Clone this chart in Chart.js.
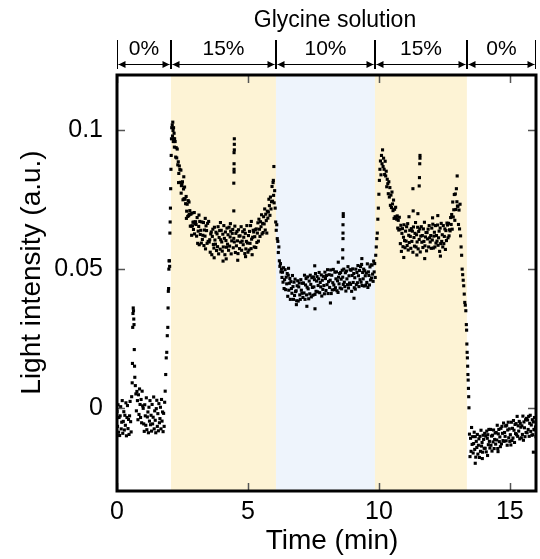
<!DOCTYPE html>
<html><head><meta charset="utf-8">
<script src="https://cdn.jsdelivr.net/npm/chart.js@4.4.0/dist/chart.umd.min.js"></script>
<style>html,body{margin:0;padding:0;background:#fff}</style>
</head><body>
<canvas id="c" width="540" height="559" style="width:540px;height:559px;display:block"></canvas>
<script>
// ---------------- DATA ----------------
const timeMin = [
// 0% baseline
0.00,0.02,0.04,0.06,0.08,0.10,0.12,0.14,0.16,0.18,0.20,0.22,0.24,0.26,0.28,0.30,0.32,0.34,0.36,0.38,0.40,0.42,0.44,0.46,0.48,0.50,0.52,0.54,
// small spike
0.56,0.58,0.59,0.60,0.61,0.62,0.63,0.64,0.65,0.66,0.67,0.68,0.70,0.72,
// 0% baseline (2)
0.74,0.76,0.78,0.80,0.82,0.84,0.86,0.88,0.90,0.92,
0.94,0.96,0.98,1.00,1.02,1.04,1.06,1.08,1.10,1.12,
1.14,1.16,1.18,1.20,1.22,1.24,1.26,1.28,1.30,1.32,
1.34,1.36,1.38,1.40,1.42,1.44,1.46,1.48,1.50,1.52,
1.54,1.56,1.58,1.60,1.62,1.64,1.66,1.68,1.70,1.72,
1.74,1.76,1.78,1.80,
// rise to 15%
1.82,1.84,1.86,1.88,1.90,1.92,1.94,1.95,1.96,1.97,1.98,1.99,2.00,2.01,2.02,2.03,2.04,2.05,2.06,2.07,2.08,2.09,
// peak
2.11,2.12,2.13,2.14,2.15,2.16,2.17,2.18,2.19,2.20,
// decay
2.22,2.24,2.26,2.28,2.30,2.32,2.34,2.36,2.38,2.40,
2.42,2.44,2.46,2.48,2.50,2.52,2.54,2.56,2.58,2.60,
2.62,2.64,2.66,2.68,2.70,2.72,2.74,2.76,2.78,2.80,
2.82,2.84,2.86,2.88,2.90,2.92,2.94,2.96,2.98,3.00,
2.35,2.45,2.55,2.65,2.75,2.85,2.95,
// 15% plateau
3.02,3.04,3.06,3.08,3.10,3.12,3.14,3.16,3.18,3.20,
3.22,3.24,3.26,3.28,3.30,3.32,3.34,3.36,3.38,3.40,
3.42,3.44,3.46,3.48,3.50,3.52,3.54,3.56,3.58,3.60,
3.62,3.64,3.66,3.68,3.70,3.72,3.74,3.76,3.78,3.80,
3.82,3.84,3.86,3.88,3.90,3.92,3.94,3.96,3.98,4.00,
4.02,4.04,4.06,4.08,4.10,4.12,4.14,4.16,4.18,4.20,
4.22,4.24,4.26,4.28,4.30,4.32,4.34,4.36,4.38,4.40,
4.42,4.44,4.46,4.48,4.50,4.52,4.54,4.56,4.58,4.60,
4.62,4.64,4.66,4.68,4.70,4.72,4.74,4.76,4.78,4.80,
4.82,4.84,4.86,4.88,4.90,4.92,4.94,4.96,4.98,5.00,
5.02,5.04,5.06,5.08,5.10,5.12,5.14,5.16,5.18,5.20,
5.22,5.24,5.26,5.28,5.30,
3.13,3.37,3.71,3.95,4.17,4.33,4.61,4.91,5.13,4.05,
// spike at 4.47
4.46,4.46,4.47,4.47,4.47,4.47,4.48,4.48,4.48,
// late rise
5.32,5.34,5.36,5.38,5.40,
5.42,5.44,5.46,5.48,5.50,5.52,5.54,5.56,5.58,5.60,
5.62,5.64,5.66,5.68,5.70,5.72,5.74,5.76,
5.78,5.80,5.82,5.84,5.86,5.88,5.90,
5.92,5.94,5.96,5.98,6.00,6.02,
5.97,5.99,
// drop to 10%
6.04,6.06,6.08,6.10,6.12,6.14,6.16,6.18,6.20,6.22,6.24,6.26,6.28,6.30,
// 10% plateau
6.32,6.34,6.36,6.38,6.40,6.42,6.44,6.46,6.48,6.50,
6.52,6.54,6.56,6.58,6.60,6.62,6.64,6.66,6.68,6.70,
6.72,6.74,6.76,6.78,6.80,6.82,6.84,6.86,6.88,6.90,
6.92,6.94,6.96,6.98,7.00,7.02,7.04,7.06,7.08,7.10,
7.12,7.14,7.16,7.18,7.20,7.22,7.24,7.26,7.28,7.30,
7.32,7.34,7.36,7.38,7.40,7.42,7.44,7.46,7.48,7.50,
7.52,7.54,7.56,7.58,7.60,7.62,7.64,7.66,7.68,7.70,
7.72,7.74,7.76,7.78,7.80,7.82,7.84,7.86,7.88,7.90,
7.92,7.94,7.96,7.98,8.00,8.02,8.04,8.06,8.08,8.10,
8.12,8.14,8.16,8.18,8.20,8.22,8.24,8.26,8.28,8.30,
8.32,8.34,8.36,8.38,8.40,8.42,8.44,8.46,8.48,8.50,
8.52,8.54,8.56,8.58,8.60,8.62,8.64,8.66,8.68,8.70,
8.72,8.74,8.76,8.78,8.80,8.82,8.84,8.86,8.88,8.90,
8.92,8.94,8.96,8.98,9.00,9.02,9.04,9.06,9.08,9.10,
9.12,9.14,9.16,9.18,9.20,9.22,9.24,9.26,9.28,9.30,
9.32,9.34,9.36,9.38,9.40,9.42,9.44,9.46,9.48,9.50,
9.52,9.54,9.56,9.58,9.60,9.62,9.64,9.66,9.68,9.70,
9.72,9.74,9.76,9.78,9.80,
6.85,7.25,7.55,8.15,8.45,9.05,9.35,6.55,7.56,
// spike at 8.63
8.62,8.62,8.63,8.63,8.63,8.64,8.64,
// rise to 15%
9.82,9.84,9.86,9.88,9.90,9.92,9.94,9.96,9.98,10.00,
10.02,10.04,10.06,10.08,10.10,10.12,10.14,10.16,10.18,10.20,
// decay
10.22,10.24,10.26,10.28,10.30,10.32,10.34,10.36,10.38,10.40,
10.42,10.44,10.46,10.48,10.50,10.52,10.54,10.56,10.58,10.60,
10.62,10.64,10.66,10.68,10.70,10.72,10.74,10.76,10.78,10.80,
// 15% plateau (2)
10.82,10.84,10.86,10.88,10.90,10.92,10.94,10.96,10.98,11.00,
11.02,11.04,11.06,11.08,11.10,11.12,11.14,11.16,11.18,11.20,
11.22,11.24,11.26,11.28,11.30,11.32,11.34,11.36,11.38,11.40,
11.42,11.44,11.46,11.48,11.50,11.52,11.54,11.56,11.58,11.60,
11.62,11.64,11.66,11.68,11.70,11.72,11.74,11.76,11.78,11.80,
11.82,11.84,11.86,11.88,11.90,11.92,11.94,11.96,11.98,12.00,
12.02,12.04,12.06,12.08,12.10,12.12,12.14,12.16,12.18,12.20,
12.22,12.24,12.26,12.28,12.30,12.32,12.34,12.36,12.38,12.40,
12.42,12.44,12.46,12.48,12.50,12.52,12.54,12.56,12.58,12.60,
10.95,11.15,11.75,12.05,12.35,11.45,12.25,
// spike at 11.56
11.30,11.31,11.49,11.54,11.55,11.56,11.57,11.57,
// late rise
12.62,12.64,12.66,12.68,12.70,12.72,12.74,12.76,12.78,12.80,
12.82,12.84,12.86,12.88,12.90,12.92,12.94,12.96,12.98,13.00,
13.02,13.04,13.06,13.08,13.10,12.99,
// drop to 0%
13.12,13.14,13.16,13.18,13.20,13.22,13.24,13.26,13.28,13.30,
13.32,13.34,13.35,13.36,13.37,13.38,13.39,13.40,13.41,13.42,13.43,13.44,
// 0% final
13.46,13.48,13.50,13.52,13.54,13.56,13.58,13.60,13.62,13.64,
13.66,13.68,13.70,13.72,13.74,13.76,13.78,13.80,13.82,13.84,
13.86,13.88,13.90,13.92,13.94,13.96,13.98,14.00,14.02,14.04,
14.06,14.08,14.10,14.12,14.14,14.16,14.18,14.20,14.22,14.24,
14.26,14.28,14.30,14.32,14.34,14.36,14.38,14.40,14.42,14.44,
14.46,14.48,14.50,14.52,14.54,14.56,14.58,14.60,14.62,14.64,
14.66,14.68,14.70,14.72,14.74,14.76,14.78,14.80,14.82,14.84,
14.86,14.88,14.90,14.92,14.94,14.96,14.98,15.00,15.02,15.04,
15.06,15.08,15.10,15.12,15.14,15.16,15.18,15.20,15.22,15.24,
15.26,15.28,15.30,15.32,15.34,15.36,15.38,15.40,15.42,15.44,
15.46,15.48,15.50,15.52,15.54,15.56,15.58,15.60,15.62,15.64,
15.66,15.68,15.70,15.72,15.74,15.76,15.78,15.80,15.82,15.84,
15.86,15.88,15.90,15.92,15.94,15.96,15.98,16.00,
13.68,15.90,14.15,14.55,13.95
];

const intensity = [
// 0% baseline
-0.0013,-0.0067,0.0011,-0.0088,-0.0035,-0.0100,-0.0029,0.0004,-0.0076,-0.0052,
0.0026,-0.0092,-0.0049,-0.0014,-0.0080,-0.0027,-0.0063,0.0018,-0.0101,-0.0035,
0.0008,-0.0075,-0.0042,-0.0096,-0.0029,0.0023,-0.0050,-0.0087,
// small spike
0.004,0.009,0.016,0.029,0.034,0.036,0.035,0.032,0.030,0.021,0.015,0.011,0.008,0.005,
// 0% baseline (2)
-0.0011,0.0059,0.0026,-0.0043,0.0047,-0.0024,0.0068,0.0012,-0.0035,0.0030,
-0.0054,0.0060,0.0007,-0.0002,-0.0058,-0.0085,0.0011,-0.0029,-0.0063,0.0036,
-0.0079,-0.0033,-0.0015,-0.0090,0.0002,-0.0048,0.0026,-0.0061,-0.0027,-0.0084,
0.0012,-0.0058,-0.0034,0.0039,-0.0076,-0.0011,-0.0045,-0.0090,-0.0003,0.0027,
-0.0067,-0.0021,-0.0083,0.0015,-0.0054,-0.0039,0.0002,-0.0076,0.0030,-0.0048,
-0.0015,-0.0086,-0.0020,-0.0067,
// rise to 15%
0.002,0.006,0.012,0.018,0.020,0.026,0.029,0.036,0.042,0.043,0.050,0.053,0.053,0.051,0.063,0.067,0.072,0.079,0.086,0.091,0.097,0.101,
// peak
0.102,0.098,0.103,0.100,0.096,0.101,0.097,0.099,0.094,0.097,
// decay
0.0960,0.0904,0.0938,0.0901,0.0933,0.0876,0.0887,0.0845,0.0872,0.0859,
0.0813,0.0857,0.0801,0.0808,0.0815,0.0750,0.0789,0.0754,0.0796,0.0752,
0.0736,0.0762,0.0709,0.0734,0.0690,0.0747,0.0693,0.0698,0.0711,0.0655,
0.0698,0.0655,0.0702,0.0656,0.0669,0.0643,0.0670,0.0627,0.0664,0.0671,
0.0812,0.0774,0.0833,0.0683,0.0742,0.0622,0.0704,
// 15% plateau
0.0661,0.0619,0.0686,0.0593,0.0637,0.0654,0.0588,0.0672,0.0625,0.0640,
0.0594,0.0670,0.0607,0.0622,0.0668,0.0585,0.0641,0.0619,0.0573,0.0656,
0.0639,0.0593,0.0665,0.0600,0.0672,0.0598,0.0606,0.0561,0.0627,0.0634,
0.0552,0.0618,0.0644,0.0589,0.0576,0.0651,0.0605,0.0590,0.0633,0.0567,
0.0627,0.0581,0.0653,0.0555,0.0614,0.0639,0.0572,0.0606,0.0640,0.0598,
0.0565,0.0626,0.0580,0.0657,0.0611,0.0552,0.0634,0.0603,0.0579,0.0648,
0.0590,0.0624,0.0568,0.0651,0.0583,0.0616,0.0637,0.0555,0.0602,0.0629,
0.0643,0.0577,0.0611,0.0598,0.0655,0.0560,0.0629,0.0584,0.0636,0.0602,
0.0556,0.0642,0.0619,0.0574,0.0620,0.0597,0.0653,0.0568,0.0601,0.0635,
0.0588,0.0615,0.0642,0.0556,0.0629,0.0573,0.0600,0.0657,0.0594,0.0561,
0.0621,0.0569,0.0636,0.0593,0.0657,0.0574,0.0608,0.0552,0.0615,0.0640,
0.0634,0.0580,0.0617,0.0642,0.0578,
0.0695,0.0683,0.0541,0.0668,0.0537,0.0664,0.0532,0.0545,0.0672,0.0529,
// spike at 4.47
0.071,0.081,0.085,0.086,0.088,0.092,0.093,0.095,0.097,
// late rise
0.0645,0.0596,0.0630,0.0667,0.0601,
0.0680,0.0644,0.0618,0.0671,0.0653,0.0696,0.0627,0.0665,0.0632,0.0689,
0.0663,0.0717,0.0641,0.0698,0.0675,0.0630,0.0709,0.0684,
0.0706,0.0752,0.0729,0.0694,0.0760,0.0717,0.0743,
0.0798,0.0745,0.0812,0.0766,0.0739,0.0783,
0.082,0.087,
// drop to 10%
0.072,0.067,0.064,0.066,0.061,0.060,0.056,0.058,0.053,0.051,0.052,0.049,0.050,0.047,
// 10% plateau
0.0489,0.0453,0.0505,0.0430,0.0462,0.0498,0.0426,0.0471,0.0447,0.0484,
0.0402,0.0478,0.0424,0.0449,0.0466,0.0391,0.0455,0.0430,0.0413,0.0477,
0.0437,0.0391,0.0453,0.0405,0.0464,0.0419,0.0422,0.0386,0.0440,0.0458,
0.0385,0.0436,0.0450,0.0407,0.0391,0.0462,0.0424,0.0413,0.0449,0.0398,
0.0450,0.0414,0.0478,0.0391,0.0443,0.0466,0.0407,0.0435,0.0472,0.0429,
0.0393,0.0457,0.0411,0.0478,0.0445,0.0400,0.0469,0.0434,0.0406,0.0472,
0.0436,0.0462,0.0409,0.0484,0.0420,0.0457,0.0473,0.0418,0.0441,0.0465,
0.0488,0.0415,0.0452,0.0436,0.0479,0.0403,0.0460,0.0427,0.0474,0.0441,
0.0411,0.0489,0.0466,0.0423,0.0477,0.0444,0.0498,0.0412,0.0455,0.0480,
0.0434,0.0460,0.0497,0.0412,0.0478,0.0425,0.0451,0.0499,0.0443,0.0426,
0.0489,0.0433,0.0465,0.0490,0.0422,0.0458,0.0416,0.0471,0.0447,0.0484,
0.0432,0.0488,0.0464,0.0429,0.0496,0.0471,0.0445,0.0500,0.0453,0.0437,
0.0487,0.0421,0.0493,0.0465,0.0444,0.0509,0.0432,0.0476,0.0450,0.0498,
0.0445,0.0496,0.0420,0.0477,0.0501,0.0452,0.0484,0.0433,0.0469,0.0428,
0.0500,0.0444,0.0488,0.0451,0.0513,0.0476,0.0437,0.0495,0.0462,0.0509,
0.0453,0.0517,0.0441,0.0488,0.0465,0.0500,0.0439,0.0494,0.0476,0.0442,
0.0486,0.0452,0.0519,0.0434,0.0490,0.0477,0.0443,0.0508,0.0461,0.0515,
0.0468,0.0515,0.0482,0.0456,0.0529,
0.0372,0.0366,0.0512,0.0378,0.0525,0.0395,0.0538,0.0503,0.0357,
// spike at 8.63
0.054,0.057,0.061,0.063,0.066,0.069,0.070,
// rise to 15%
0.049,0.052,0.047,0.055,0.058,0.061,0.063,0.068,0.072,0.077,
0.082,0.086,0.089,0.084,0.091,0.088,0.093,0.087,0.090,0.086,
// decay
0.0841,0.0889,0.0836,0.0853,0.0797,0.0824,0.0808,0.0772,0.0815,0.0760,
0.0794,0.0730,0.0767,0.0722,0.0778,0.0735,0.0711,0.0749,0.0683,0.0716,
0.0689,0.0723,0.0685,0.0680,0.0692,0.0648,0.0676,0.0641,0.0687,0.0644,
// 15% plateau (2)
0.0592,0.0658,0.0564,0.0629,0.0646,0.0581,0.0615,0.0660,0.0603,0.0577,
0.0637,0.0601,0.0653,0.0585,0.0664,0.0569,0.0622,0.0596,0.0640,0.0618,
0.0575,0.0646,0.0600,0.0637,0.0561,0.0652,0.0614,0.0583,0.0629,0.0668,
0.0580,0.0624,0.0598,0.0651,0.0573,0.0636,0.0607,0.0645,0.0562,0.0619,
0.0653,0.0597,0.0621,0.0578,0.0645,0.0600,0.0669,0.0584,0.0616,0.0632,
0.0566,0.0632,0.0609,0.0644,0.0580,0.0657,0.0613,0.0598,0.0621,0.0575,
0.0648,0.0605,0.0662,0.0576,0.0619,0.0633,0.0580,0.0657,0.0594,0.0621,
0.0601,0.0659,0.0586,0.0613,0.0637,0.0564,0.0648,0.0592,0.0665,0.0600,
0.0624,0.0580,0.0657,0.0592,0.0618,0.0645,0.0571,0.0639,0.0603,0.0666,
0.0542,0.0689,0.0538,0.0685,0.0547,0.0551,0.0693,
// spike at 11.56
0.079,0.071,0.070,0.080,0.083,0.088,0.090,0.091,
// late rise
0.0659,0.0613,0.0665,0.0620,0.0642,0.0638,0.0686,0.0661,0.0697,0.0644,
0.0742,0.0688,0.0714,0.0769,0.0676,0.0771,0.0715,0.0790,0.0743,0.0727,
0.0727,0.0661,0.0713,0.0645,0.0734,0.0836,
// drop to 0%
0.062,0.058,0.055,0.050,0.048,0.046,0.044,0.041,0.038,0.037,
0.035,0.030,0.028,0.023,0.020,0.018,0.015,0.012,0.010,0.007,0.004,0.000,
// 0% final
-0.0095,-0.0176,-0.0110,-0.0157,-0.0071,-0.0132,-0.0104,-0.0163,-0.0129,-0.0088,
-0.0150,-0.0104,-0.0178,-0.0121,-0.0143,-0.0096,-0.0167,-0.0135,-0.0112,-0.0179,
-0.0103,-0.0157,-0.0081,-0.0138,-0.0125,-0.0160,-0.0099,-0.0114,-0.0146,-0.0092,
-0.0146,-0.0102,-0.0159,-0.0084,-0.0110,-0.0097,-0.0133,-0.0078,-0.0121,-0.0145,
-0.0078,-0.0135,-0.0102,-0.0156,-0.0099,-0.0123,-0.0080,-0.0147,-0.0114,-0.0091,
-0.0131,-0.0089,-0.0116,-0.0063,-0.0147,-0.0094,-0.0078,-0.0122,-0.0105,-0.0140,
-0.0074,-0.0130,-0.0067,-0.0092,-0.0118,-0.0055,-0.0121,-0.0089,-0.0103,-0.0066,
-0.0119,-0.0063,-0.0135,-0.0080,-0.0052,-0.0108,-0.0076,-0.0121,-0.0097,-0.0134,
-0.0052,-0.0118,-0.0074,-0.0109,-0.0046,-0.0081,-0.0125,-0.0060,-0.0093,-0.0057,
-0.0097,-0.0031,-0.0103,-0.0065,-0.0084,-0.0049,-0.0112,-0.0056,-0.0070,-0.0108,
-0.0065,-0.0096,-0.0030,-0.0117,-0.0051,-0.0072,-0.0104,-0.0043,-0.0089,-0.0038,
-0.0090,-0.0044,-0.0078,-0.0031,-0.0103,-0.0056,-0.0027,-0.0085,-0.0062,-0.0099,
-0.0043,-0.0097,-0.0051,-0.0078,-0.0035,-0.0080,-0.0069,-0.0104,
-0.0200,-0.0160,-0.0172,-0.0158,-0.0183
];

const xTickValues = [0, 5, 10, 15];
const xTickLabels = ['0', '5', '10', '15'];
const yTickValues = [0, 0.05, 0.1];
const yTickLabels = ['0', '0.05', '0.1'];
const xAxisTitle = 'Time (min)';
const yAxisTitle = 'Light intensity (a.u.)';

const phaseStart  = [0, 2.06, 6.07, 9.85, 13.36];
const phaseEnd    = [2.06, 6.07, 9.85, 13.36, 16];
const phaseLabels = ['0%', '15%', '10%', '15%', '0%'];
const phaseFill   = [null, '#fdf3d5', '#eef4fc', '#fdf3d5', null];
const headerTitle = 'Glycine solution';

// ---------------- CHART ----------------
const FONT = '"Liberation Sans", Arial, Helvetica, sans-serif';
Chart.defaults.font.family = FONT;
Chart.defaults.color = '#000';

const bandsPlugin = {
  id: 'bands',
  beforeDatasetsDraw(chart) {
    const {ctx, chartArea: a, scales: {x}} = chart;
    ctx.save();
    for (let i = 0; i < phaseStart.length; i++) {
      if (!phaseFill[i]) continue;
      const x0 = x.getPixelForValue(phaseStart[i]);
      const x1 = x.getPixelForValue(phaseEnd[i]);
      ctx.fillStyle = phaseFill[i];
      ctx.fillRect(x0, a.top, x1 - x0, a.bottom - a.top);
    }
    ctx.restore();
  }
};

const framePlugin = {
  id: 'frame',
  afterDatasetsDraw(chart) {
    const {ctx, chartArea: a, scales: {x, y}} = chart;
    ctx.save();
    ctx.strokeStyle = '#555';
    ctx.lineWidth = 1.5;
    const L = 8;
    ctx.beginPath();
    xTickValues.forEach(v => {
      const px = Math.round(x.getPixelForValue(v)) + 0.5;
      ctx.moveTo(px, a.bottom); ctx.lineTo(px, a.bottom - L);
      ctx.moveTo(px, a.top); ctx.lineTo(px, a.top + L);
    });
    yTickValues.forEach(v => {
      const py = Math.round(y.getPixelForValue(v)) + 0.5;
      ctx.moveTo(a.left, py); ctx.lineTo(a.left + L, py);
      ctx.moveTo(a.right, py); ctx.lineTo(a.right - L, py);
    });
    ctx.stroke();
    ctx.strokeStyle = '#000';
    ctx.lineWidth = 3;
    ctx.strokeRect(a.left, a.top, a.right - a.left, a.bottom - a.top);
    ctx.restore();
  }
};

const textPlugin = {
  id: 'texts',
  afterDraw(chart) {
    const {ctx, scales: {x}} = chart;
    ctx.save();
    ctx.fillStyle = '#000';
    ctx.textAlign = 'center';
    ctx.textBaseline = 'alphabetic';
    // axis titles
    ctx.font = '28px ' + FONT;
    ctx.fillText(xAxisTitle, 332, 549);
    ctx.save();
    ctx.translate(40, 272.5);
    ctx.rotate(-Math.PI / 2);
    ctx.fillText(yAxisTitle, 0, 0);
    ctx.restore();
    // header
    ctx.font = '23px ' + FONT;
    ctx.fillText(headerTitle, 335, 27);
    ctx.font = '21px ' + FONT;
    const yArrow = 64.5, yTop = 40, yBot = 69;
    ctx.strokeStyle = '#000';
    ctx.lineWidth = 1;
    const bars = new Set();
    for (let i = 0; i < phaseStart.length; i++) {
      const x0 = Math.round(x.getPixelForValue(phaseStart[i])) + 0.5;
      const x1 = Math.round(x.getPixelForValue(phaseEnd[i])) - 0.5;
      bars.add(x0); bars.add(x1);
      ctx.beginPath();
      ctx.moveTo(x0 + 1, yArrow); ctx.lineTo(x1 - 1, yArrow);
      ctx.stroke();
      ctx.beginPath();
      ctx.moveTo(x0 + 1, yArrow); ctx.lineTo(x0 + 8, yArrow - 3.5); ctx.lineTo(x0 + 8, yArrow + 3.5); ctx.closePath();
      ctx.moveTo(x1 - 1, yArrow); ctx.lineTo(x1 - 8, yArrow - 3.5); ctx.lineTo(x1 - 8, yArrow + 3.5); ctx.closePath();
      ctx.fill();
      ctx.fillText(phaseLabels[i], (x0 + x1) / 2, 55);
    }
    ctx.beginPath();
    bars.forEach(bx => { ctx.moveTo(bx, yTop); ctx.lineTo(bx, yBot); });
    ctx.stroke();
    ctx.restore();
  }
};

new Chart(document.getElementById('c'), {
  type: 'scatter',
  data: {
    datasets: [{
      data: timeMin.map((t, i) => ({x: t, y: intensity[i]})),
      pointStyle: 'rect',
      pointRadius: 2.2,
      pointBorderWidth: 0,
      backgroundColor: '#000',
      borderColor: '#000'
    }]
  },
  options: {
    responsive: false,
    animation: false,
    devicePixelRatio: 1,
    layout: {padding: {top: 75, right: 3, left: 0, bottom: 0}},
    plugins: {legend: {display: false}, tooltip: {enabled: false}},
    scales: {
      x: {
        type: 'linear', min: 0, max: 16,
        afterBuildTicks: s => { s.ticks = xTickValues.map(v => ({value: v})); },
        afterFit: s => { s.height = 68; },
        grid: {display: false, drawTicks: false},
        border: {display: false},
        ticks: {font: {size: 25}, color: '#000', padding: 6, maxRotation: 0,
                callback: (v, i) => xTickLabels[i]},
        title: {display: false}
      },
      y: {
        type: 'linear', min: -0.03, max: 0.12,
        afterBuildTicks: s => { s.ticks = yTickValues.map(v => ({value: v})); },
        afterFit: s => { s.width = 117; },
        grid: {display: false, drawTicks: false},
        border: {display: false},
        ticks: {font: {size: 25}, color: '#000', padding: 14,
                callback: (v, i) => yTickLabels[i]},
        title: {display: false}
      }
    }
  },
  plugins: [bandsPlugin, framePlugin, textPlugin]
});
</script>
</body></html>
